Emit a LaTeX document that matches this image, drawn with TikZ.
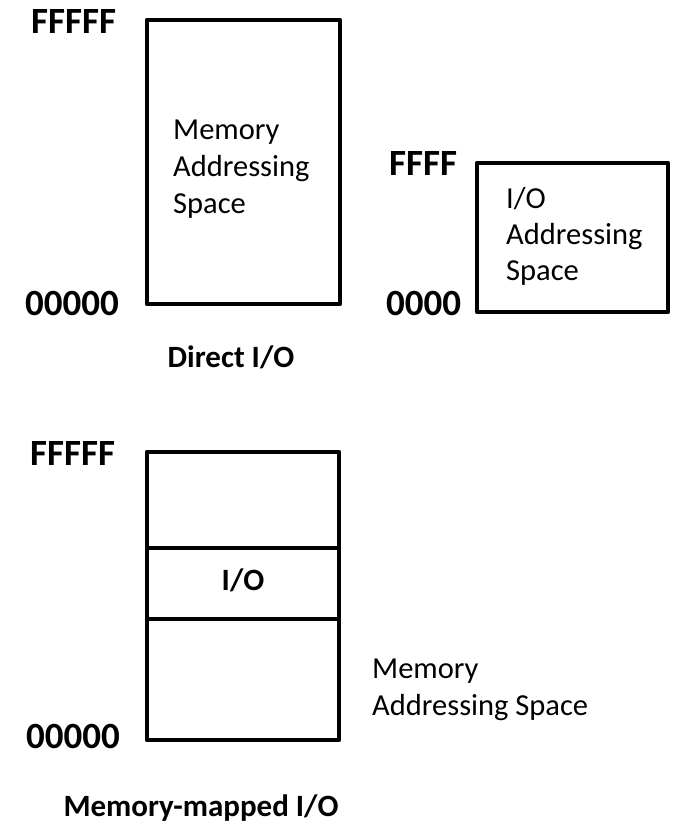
\documentclass[tikz,border=0pt]{standalone}
\usepackage{fontspec}
\setmainfont{Carlito}
\begin{document}
\begin{tikzpicture}[x=1pt,y=1pt,
  box/.style={draw=black,line width=4.5pt,line join=round},
  addr/.style={font=\fontsize{37}{37}\selectfont\bfseries,inner sep=0pt,anchor=base west},
  body/.style={font=\fontsize{30.5}{37}\selectfont,inner sep=0pt,anchor=base west},
  captext/.style={font=\fontsize{31}{37}\selectfont\bfseries,inner sep=0pt,anchor=base}]
\useasboundingbox (0,0) rectangle (685,-825);
% Direct I/O: memory space
\draw[box] (147,-20) rectangle (340,-304);
\node[addr] (f1) at (31,-33) {FFFFF};
\node[addr] (z1) at (25,-315) {00000};
\node[body] (m1) at (173,-139) {Memory};
\node[body] (m2) at (173,-176) {Addressing};
\node[body] (m3) at (173,-213) {Space};
% Direct I/O: I/O space
\draw[box] (477,-163) rectangle (668,-312);
\node[addr] (f2) at (389,-175) {FFFF};
\node[addr] (z2) at (386,-315) {0000};
\node[body] (i1) at (506,-208) {I/O};
\node[body] (i2) at (506,-244) {Addressing};
\node[body] (i3) at (506,-280) {Space};
\node[captext] (c1) at (231,-367) {Direct I/O};
% Memory-mapped I/O
\draw[box] (147,-452) rectangle (339,-740);
\draw[box] (147,-548) -- (339,-548);
\draw[box] (147,-619) -- (339,-619);
\node[addr] (f3) at (30,-465) {FFFFF};
\node[addr] (z3) at (26,-748) {00000};
\node[captext] (io) at (243,-590) {I/O};
\node[body] (mm1) at (372,-678) {Memory};
\node[body] (mm2) at (372,-715) {Addressing Space};
\node[captext] (c2) at (201,-816) {Memory-mapped I/O};
\end{tikzpicture}
\end{document}
